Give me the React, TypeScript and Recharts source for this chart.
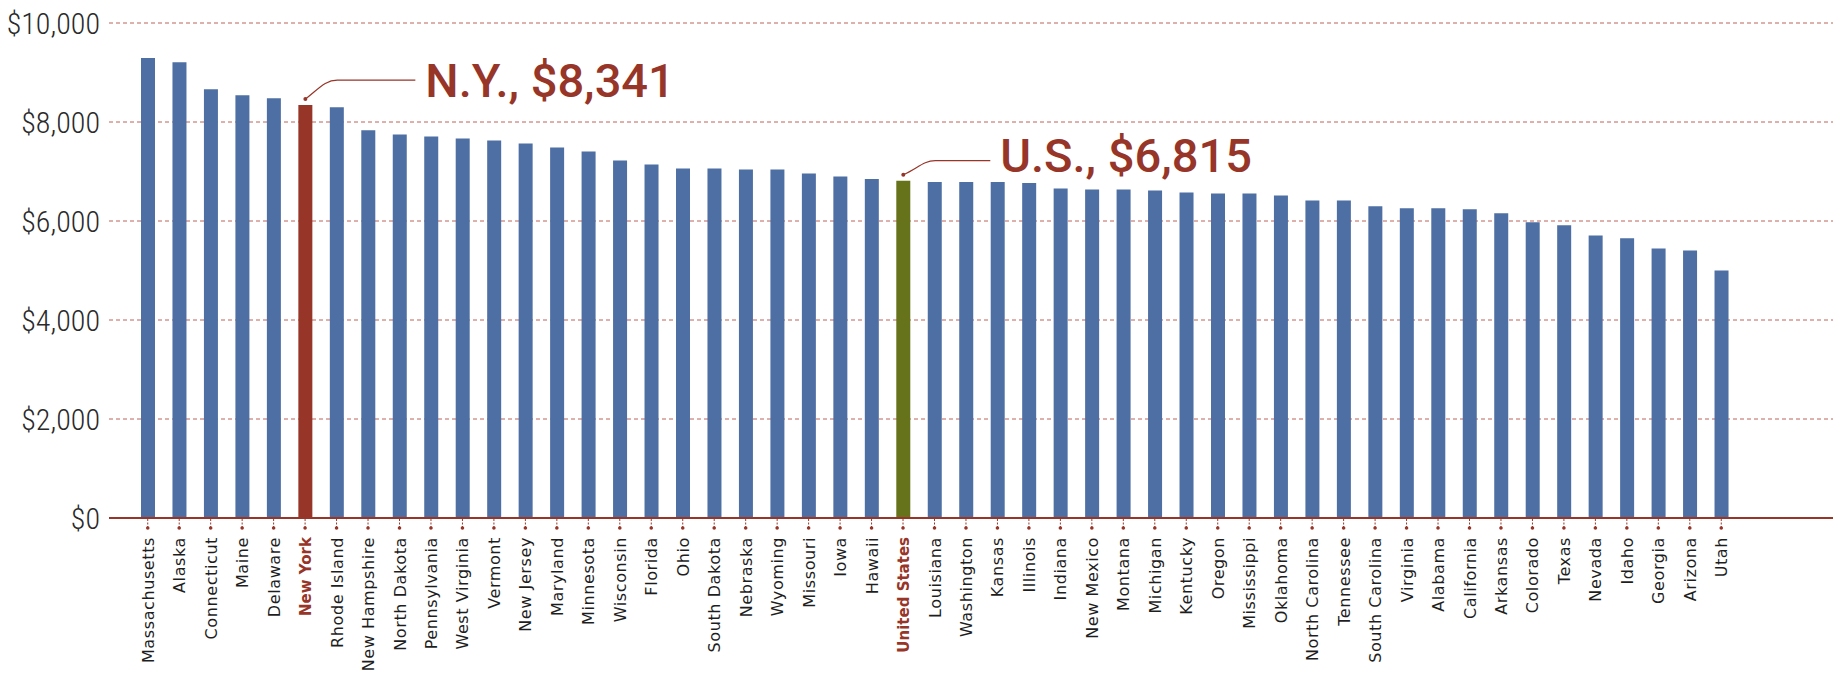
import { BarChart, Bar, XAxis, YAxis, CartesianGrid, Cell, LabelList } from "recharts";

const STATES = [
  "Massachusetts", "Alaska", "Connecticut", "Maine", "Delaware", "New York",
  "Rhode Island", "New Hampshire", "North Dakota", "Pennsylvania", "West Virginia",
  "Vermont", "New Jersey", "Maryland", "Minnesota", "Wisconsin", "Florida", "Ohio",
  "South Dakota", "Nebraska", "Wyoming", "Missouri", "Iowa", "Hawaii", "United States",
  "Louisiana", "Washington", "Kansas", "Illinois", "Indiana", "New Mexico", "Montana",
  "Michigan", "Kentucky", "Oregon", "Mississippi", "Oklahoma", "North Carolina",
  "Tennessee", "South Carolina", "Virginia", "Alabama", "California", "Arkansas",
  "Colorado", "Texas", "Nevada", "Idaho", "Georgia", "Arizona", "Utah",
];

const SPENDING = [
  9291, 9209, 8662, 8541, 8480, 8341,
  8297, 7831, 7750, 7709, 7669,
  7628, 7568, 7486, 7405, 7223, 7142, 7061,
  7061, 7041, 7041, 6959, 6899, 6850, 6815,
  6790, 6790, 6790, 6770, 6655, 6635, 6635,
  6615, 6574, 6554, 6554, 6514, 6415,
  6415, 6297, 6257, 6257, 6236, 6155,
  5973, 5912, 5709, 5649, 5446, 5405, 5000,
];

const Y_TICKS = [0, 2000, 4000, 6000, 8000, 10000];

const CALLOUT_STATES = ["New York", "United States"];
const CALLOUT_ABBR = ["N.Y.", "U.S."];

const BLUE = "#4e6fa3";
const RED = "#963528";
const OLIVE = "#67731a";
const GRID = "#b3473b";

// leader line shape for each callout (px, relative to the bar top)
const LEADER: Record<string, { rise: number; end: number; text: number; base: number }> = {
  "New York": { rise: 25, end: 110, text: 120, base: 8 },
  "United States": { rise: 20, end: 87, text: 97, base: 9 },
};

const data = STATES.map((state, i) => ({ state, value: SPENDING[i] }));

function barFill(state: string) {
  if (state === "New York") return RED;
  if (state === "United States") return OLIVE;
  return BLUE;
}

function StateTick(props: any) {
  const { x, y, payload } = props;
  const name = payload.value as string;
  const hot = CALLOUT_STATES.includes(name);
  return (
    <g>
      <line x1={x} x2={x} y1={y + 1} y2={y + 9} stroke={RED} strokeDasharray="2 1.5" />
      <circle cx={x} cy={y + 10} r={1.8} fill={RED} />
      <text
        transform={`translate(${x + 6},${y + 19}) rotate(-90)`}
        textAnchor="end"
        fontFamily="'DejaVu Sans', sans-serif"
        fontSize={hot ? 15 : 16}
        letterSpacing={hot ? 0 : 0.6}
        fontWeight={hot ? "bold" : "normal"}
        fill={hot ? RED : "#1e1e1e"}
      >
        {name}
      </text>
    </g>
  );
}

function Callout(props: any) {
  const vb = props.viewBox || {};
  const x = props.x ?? vb.x;
  const y = props.y ?? vb.y;
  const width = props.width ?? vb.width;
  const name = props.value as string;
  const idx = CALLOUT_STATES.indexOf(name);
  if (idx < 0) return null;
  const amount = SPENDING[STATES.indexOf(name)];
  const g = LEADER[name];
  const cx = x + width / 2;
  const dotY = y - 6;
  const lineY = y - g.rise;
  return (
    <g>
      <circle cx={cx} cy={dotY} r={2} fill={RED} />
      <path
        d={`M${cx},${dotY} C${cx + 14},${lineY + 8} ${cx + 20},${lineY} ${cx + 32},${lineY} L${cx + g.end},${lineY}`}
        fill="none"
        stroke={RED}
        strokeWidth={1.2}
      />
      <text
        x={cx + g.text}
        y={y - g.base}
        fontFamily="Roboto, 'Liberation Sans', sans-serif"
        fontWeight={500}
        fontSize={47}
        fill={RED}
      >
        {`${CALLOUT_ABBR[idx]}, $${amount.toLocaleString("en-US")}`}
      </text>
    </g>
  );
}

export default function App() {
  return (
    <div style={{ position: "absolute", left: 0, top: 0, width: 1833, height: 673, background: "#fff" }}>
      <BarChart
        width={1833}
        height={673}
        data={data}
        margin={{ top: 23, right: 0, bottom: 0, left: 0 }}
      >
        <CartesianGrid vertical={false} stroke={GRID} strokeOpacity={0.85} strokeDasharray="4 3" />
        <YAxis
          width={109}
          domain={[0, 10000]}
          ticks={Y_TICKS}
          axisLine={false}
          tickLine={false}
          tickSize={0}
          tickMargin={9}
          tickFormatter={(v: number) => `$${v.toLocaleString("en-US")}`}
          tick={{
            fill: "#2a2a2a",
            fontSize: 30,
            fontWeight: 300,
            fontFamily: "'Roboto Condensed', 'Liberation Sans Narrow', 'DejaVu Sans Condensed', sans-serif",
          }}
        />
        <XAxis
          dataKey="state"
          interval={0}
          height={155}
          padding={{ left: 23, right: 96 }}
          axisLine={{ stroke: RED, strokeWidth: 2 }}
          tickLine={false}
          tickSize={0}
          tickMargin={0}
          tick={<StateTick />}
        />
        <Bar dataKey="value" barSize={14} isAnimationActive={false}>
          {data.map((d) => (
            <Cell key={d.state} fill={barFill(d.state)} />
          ))}
          <LabelList dataKey="state" content={<Callout />} />
        </Bar>
      </BarChart>
    </div>
  );
}
